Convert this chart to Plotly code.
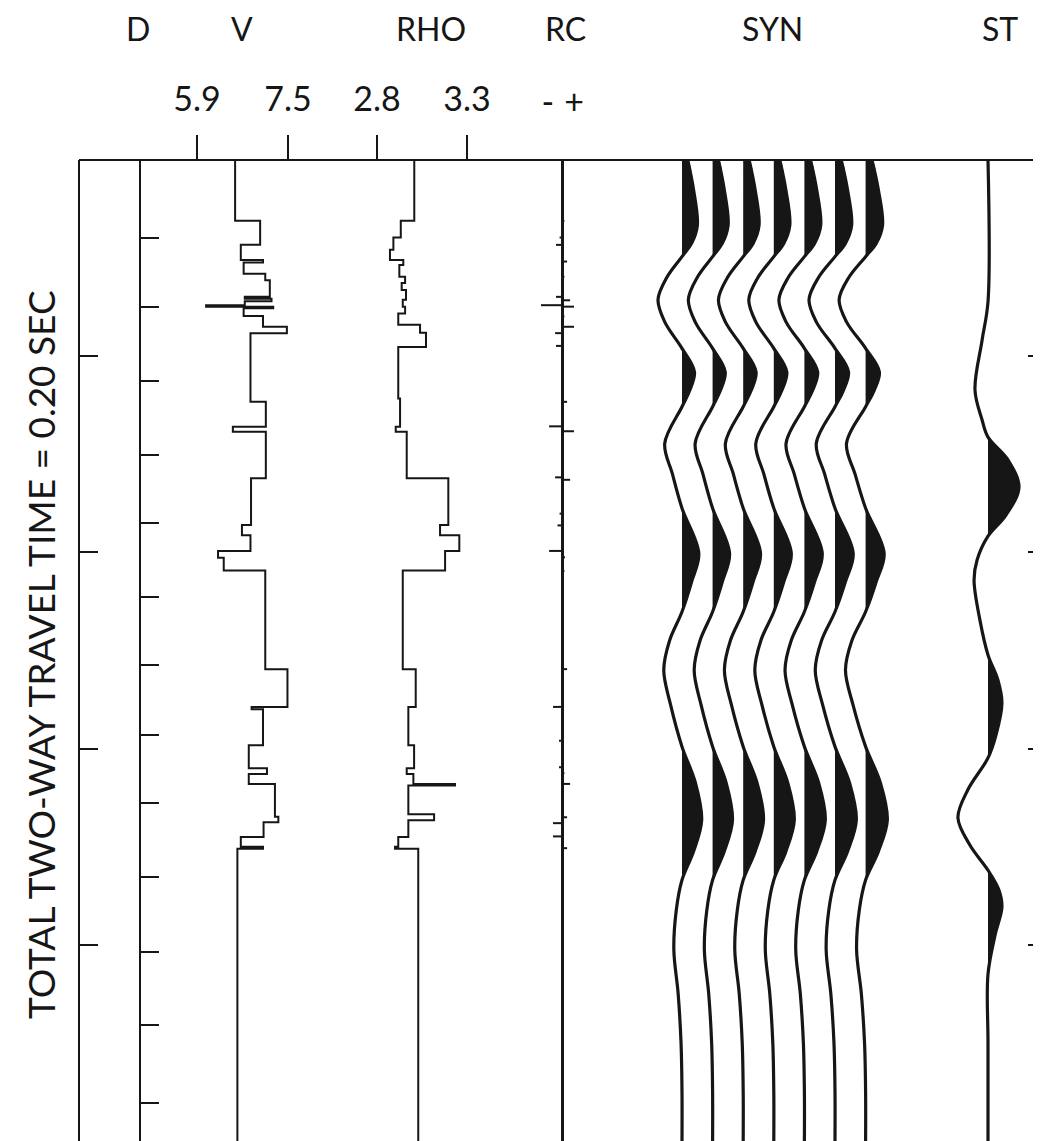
import plotly.graph_objects as go

# ------------------------------------------------------------------ data
TRACK_TITLES = ["D", "V", "RHO", "RC", "SYN", "ST"]
Y_TITLE = "TOTAL TWO-WAY TRAVEL TIME = 0.20 SEC"
T_MAX = 200.0  # ms, full time window

V_TICKS = [5.9, 7.5]
RHO_TICKS = [2.8, 3.3]
RC_TICKS = [-0.047, 0.040]
RC_TICK_TEXT = ["-", "+"]
D_TICKS_MS = [40, 80, 120, 160]
DEPTH_TICKS_MS = [15.9, 30.0, 45.1, 60.1, 74.0, 89.1, 103.0, 117.2, 131.1,
                  146.2, 161.5, 176.4, 192.3]

# velocity log (layer tops, km/s)
V_TOP_MS = [0, 12.4, 17.3, 20.4, 20.9, 23.2, 24.5, 27.9, 28.3, 28.8,
            29.6, 29.9, 30.2, 31.8, 34.0, 35.3, 49.3, 54.4, 55.4, 64.9,
            74.4, 76.5, 79.7, 81.1, 83.7, 103.8, 111.5, 112.0, 119.3, 124.0,
            125.2, 127.2, 133.9, 135.0, 138.0, 140.0, 140.4]
V_KMS = [6.57, 7.01, 6.67, 7.06, 6.72, 7.10, 7.18, 6.74, 7.21, 6.74,
         6.06, 7.24, 6.72, 7.06, 7.48, 6.84, 7.11, 6.53, 7.11, 6.85,
         6.69, 6.84, 6.27, 6.37, 7.10, 7.49, 6.86, 7.06, 6.81, 7.13,
         6.81, 7.27, 7.33, 7.07, 6.67, 7.06, 6.61]

# density log (layer tops, g/cc)
RHO_TOP_MS = [0, 12.4, 15.8, 18.3, 20.4, 21.4, 23.8, 25.1, 26.5, 28.5,
              29.9, 31.3, 33.6, 35.2, 38.1, 48.6, 54.4, 55.4, 64.9, 74.4,
              76.5, 79.7, 83.7, 103.8, 111.5, 119.3, 124.0, 125.2, 127.2, 127.5,
              133.4, 134.6, 138.0, 140.0, 140.4]
RHO_GCC = [3.007, 2.932, 2.891, 2.872, 2.946, 2.924, 2.956, 2.937, 2.961, 2.943,
           2.956, 2.918, 3.039, 3.072, 2.918, 2.928, 2.904, 2.965, 3.196, 3.150,
           3.257, 3.178, 2.943, 3.015, 2.974, 3.006, 2.965, 3.002, 3.233, 2.974,
           3.117, 2.974, 2.918, 2.900, 3.029]

# reflection coefficients
RC_MS = [12.4, 15.8, 17.3, 20.7, 23.8, 27.9, 28.6, 29.6, 29.9, 31.9,
         34.0, 35.3, 37.9, 49.3, 54.3, 55.3, 64.7, 65.2, 72.1, 74.5,
         79.7, 81.0, 83.8, 103.8, 111.5, 118.4, 123.8, 125.0, 127.2, 134.0,
         135.2, 137.9, 140.3]
RC_VAL = [0.008, -0.008, -0.020, 0.017, 0.008, -0.020, 0.027, -0.070, 0.040, 0.008,
          0.040, -0.023, -0.020, 0.017, -0.043, 0.040, -0.023, 0.027, -0.008, -0.015,
          -0.043, 0.010, 0.008, 0.017, -0.030, -0.010, -0.010, 0.008, 0.027, 0.017,
          -0.030, -0.030, 0.017]

# synthetic seismogram (normalised amplitude), repeated on 7 traces
SYN_MS = [0, 6, 13.3, 17, 19.7, 24, 28.5, 33, 38.4, 43.2, 47, 50.3, 57.8, 64,
          71, 80.2, 86, 92.1, 98, 104, 111, 119.6, 127, 134.6, 141, 146.8,
          153, 161, 170, 180, 190, 200]
SYN_AMP = [0.24, 0.48, 0.64, 0.40, 0, -0.64, -1.0, -0.72, 0, 0.52, 0.32, 0, -0.72, -0.40,
           0, 0.70, 0.40, 0, -0.52, -0.76, -0.48, 0, 0.56, 0.82, 0.48, 0,
           -0.24, -0.34, -0.16, -0.04, 0, 0]
SYN_TRACE_GAIN = [0.96, 0.97, 0.99, 1.0, 1.02, 1.04, 1.06]

# stacked trace
ST_MS = [0, 28.9, 36.7, 46.9, 53, 56.5, 61.2, 66.7, 72.4, 76.7, 81.5, 85.6, 93.8,
         100.9, 106, 110.7, 117.2, 121.9, 128.4, 134.1, 139.7, 144.8, 148.8,
         152.3, 158, 166, 180, 200]
ST_AMP = [0, 0, -0.19, -0.42, -0.19, 0, 0.65, 1.0, 0.58, 0, -0.35, -0.45, -0.26,
          0, 0.32, 0.45, 0.26, 0, -0.65, -0.97, -0.58, 0, 0.35, 0.45,
          0.23, 0, 0, 0]

# ------------------------------------------------------------------ styling
INK = "#161616"
FONT = "Lato"
OFF = 8                        # page offset of the plot div
W, H = 1041 - OFF, 1141 - OFF
px = lambda p: (p - OFF) / W           # window pixel -> paper
py = lambda p: 1 - (p - OFF) / H
TOP = 160
SYN_GAIN = 0.817               # axis units per normalised amplitude
ST_GAIN = 1.0

fig = go.Figure()


def step_xy(tops, vals):
    return list(vals) + [vals[-1]], list(tops) + [T_MAX]


vx, vy = step_xy(V_TOP_MS, V_KMS)
fig.add_trace(go.Scatter(x=vx, y=vy, mode="lines", line=dict(color=INK, width=2, shape="vh"),
                         xaxis="x", yaxis="y2", showlegend=False, hoverinfo="skip"))
rx, ry = step_xy(RHO_TOP_MS, RHO_GCC)
fig.add_trace(go.Scatter(x=rx, y=ry, mode="lines", line=dict(color=INK, width=2, shape="vh"),
                         xaxis="x2", yaxis="y2", showlegend=False, hoverinfo="skip"))

# RC spikes
cx, cy = [], []
for t, r in zip(RC_MS, RC_VAL):
    cx += [0, r, None]
    cy += [t, t, None]
fig.add_trace(go.Scatter(x=cx, y=cy, mode="lines", line=dict(color=INK, width=2),
                         xaxis="x3", yaxis="y", showlegend=False, hoverinfo="skip"))


def lobes(ts, amps):
    out, cur = [], None
    for i, (t, a) in enumerate(zip(ts, amps)):
        if a > 0:
            if cur is None:
                if i > 0 and amps[i - 1] == 0:
                    cur = [(ts[i - 1], 0.0)]
                else:
                    cur = [(t, 0.0)]
            cur.append((t, a))
        else:
            if cur is not None:
                cur.append((t, 0.0))
                out.append(cur)
                cur = None
    if cur is not None:
        cur.append((cur[-1][0], 0.0))
        out.append(cur)
    return out


def wiggle(ts, amps, base, gain, axis, yax, width):
    for lobe in lobes(ts, amps):
        fig.add_trace(go.Scatter(
            x=[base + gain * a for _, a in lobe], y=[t for t, _ in lobe],
            mode="lines", fill="toself", fillcolor=INK,
            line=dict(width=0, shape="spline", color=INK),
            xaxis=axis, yaxis=yax, showlegend=False, hoverinfo="skip"))
    fig.add_trace(go.Scatter(
        x=[base + gain * a for a in amps], y=ts, mode="lines",
        line=dict(color=INK, width=width, shape="spline"),
        xaxis=axis, yaxis=yax, showlegend=False, hoverinfo="skip"))


for k, g in enumerate(SYN_TRACE_GAIN, start=1):
    wiggle(SYN_MS, SYN_AMP, k, SYN_GAIN * g, "x4", "y", 3.2)
wiggle(ST_MS, ST_AMP, 0, ST_GAIN, "x5", "y3", 3.2)

# ------------------------------------------------------------------ axes
ydom = [0, py(TOP)]
common_x = dict(showgrid=False, zeroline=False, showline=False, anchor="y", side="top",
                fixedrange=True)
tickfont = dict(family=FONT, size=34, color=INK)

fig.update_layout(
    width=W, height=H, margin=dict(l=0, r=0, t=0, b=0),
    paper_bgcolor="white", plot_bgcolor="white", showlegend=False,
    xaxis=dict(domain=[px(140), px(330)], range=[4.898, 8.238], tickvals=V_TICKS,
               ticktext=[f"{v:.1f}" for v in V_TICKS], ticks="outside", ticklen=24,
               tickwidth=2, tickcolor=INK, tickfont=tickfont, ticklabelstandoff=10,
               **common_x),
    xaxis2=dict(domain=[px(330), px(520)], range=[2.539, 3.594], tickvals=RHO_TICKS,
                ticktext=[f"{v:.1f}" for v in RHO_TICKS], ticks="outside", ticklen=24,
                tickwidth=2, tickcolor=INK, tickfont=tickfont, ticklabelstandoff=10,
                **common_x),
    xaxis3=dict(domain=[px(520), px(620)], range=[-0.14, 0.1933], tickvals=RC_TICKS,
                ticktext=RC_TICK_TEXT, ticks="", tickfont=tickfont, ticklabelstandoff=38,
                showgrid=False, showline=False, anchor="y", side="top", fixedrange=True,
                zeroline=True, zerolinecolor=INK, zerolinewidth=2.5),
    xaxis4=dict(domain=[px(640), px(930)], range=[-0.3725, 9.1046], showticklabels=False,
                ticks="", **common_x),
    xaxis5=dict(domain=[px(930), 1.0], range=[-1.871, 1.710], showticklabels=False,
                ticks="", **common_x),
    yaxis=dict(domain=ydom, range=[T_MAX, 0], anchor="free", position=px(79),
               showline=True, linecolor=INK, linewidth=2, ticks="inside", ticklen=18,
               tickwidth=2, tickcolor=INK, tickvals=D_TICKS_MS, showticklabels=False,
               showgrid=False, zeroline=False, fixedrange=True),
    yaxis2=dict(domain=ydom, range=[T_MAX, 0], overlaying="y", matches="y", anchor="free",
                position=px(140), side="left", showline=True, linecolor=INK, linewidth=2,
                ticks="inside", ticklen=18, tickwidth=2, tickcolor=INK,
                tickvals=DEPTH_TICKS_MS, showticklabels=False, showgrid=False,
                zeroline=False),
    yaxis3=dict(domain=ydom, range=[T_MAX, 0], overlaying="y", matches="y", anchor="free",
                position=1.0, side="right", showline=False, ticks="inside", ticklen=13,
                tickwidth=2, tickcolor=INK, tickvals=D_TICKS_MS, showticklabels=False,
                showgrid=False, zeroline=False),
)

# top border
fig.add_shape(type="line", xref="paper", yref="paper", x0=px(79), x1=1.0,
              y0=py(TOP), y1=py(TOP), line=dict(color=INK, width=2))

# track titles
TITLE_X = [138, 242, 431, 565, 772, 1000]
for name, xp in zip(TRACK_TITLES, TITLE_X):
    fig.add_annotation(text=name, x=px(xp), y=py(28), xref="paper", yref="paper",
                       showarrow=False, xanchor="center", yanchor="middle",
                       font=dict(family=FONT, size=32, color=INK))

fig.add_annotation(text=Y_TITLE, x=px(40), y=py(655), xref="paper", yref="paper",
                   showarrow=False, textangle=-90, xanchor="center", yanchor="middle",
                   font=dict(family=FONT, size=37, color=INK))

fig.write_html("out.html")
